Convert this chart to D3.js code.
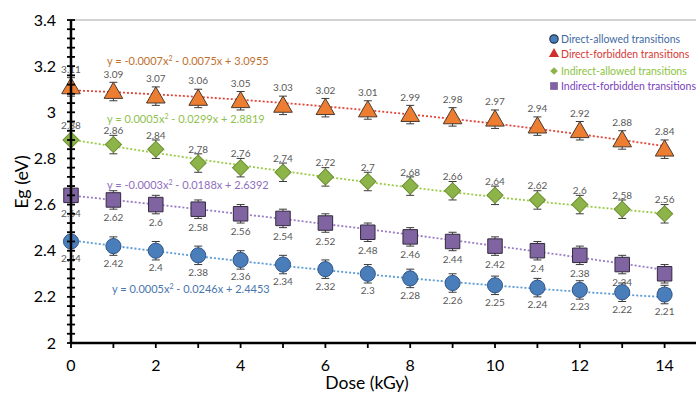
<!DOCTYPE html>
<html><head><meta charset="utf-8">
<script src="https://cdn.jsdelivr.net/npm/d3@7"></script>
<style>body{margin:0;background:#fff}svg{display:block}text{font-family:Lato,"Open Sans",sans-serif}</style>
</head><body><svg id="c" width="696" height="394"></svg>
<script>
const doses = [0,1,2,3,4,5,6,7,8,9,10,11,12,13,14];
const directAllowed   = [2.44,2.42,2.4,2.38,2.36,2.34,2.32,2.3,2.28,2.26,2.25,2.24,2.23,2.22,2.21];
const directForbidden = [3.11,3.09,3.07,3.06,3.05,3.03,3.02,3.01,2.99,2.98,2.97,2.94,2.92,2.88,2.84];
const indirectAllowed = [2.88,2.86,2.84,2.78,2.76,2.74,2.72,2.7,2.68,2.66,2.64,2.62,2.6,2.58,2.56];
const indirectForbidden = [2.64,2.62,2.6,2.58,2.56,2.54,2.52,2.48,2.46,2.44,2.42,2.4,2.38,2.34,2.3];
const errorValue = 0.04;
const seriesNames = ["Direct-allowed transitions","Direct-forbidden transitions","Indirect-allowed transitions","Indirect-forbidden transitions"];
const fitCoefs = [[0.0005,-0.0246,2.4453],[-0.0007,-0.0075,3.0955],[0.0005,-0.0299,2.8819],[-0.0003,-0.0188,2.6392]];
const fitLabels = ["y = 0.0005x\u00b2 - 0.0246x + 2.4453","y = -0.0007x\u00b2 - 0.0075x + 3.0955","y = 0.0005x\u00b2 - 0.0299x + 2.8819","y = -0.0003x\u00b2 - 0.0188x + 2.6392"];
const xTicks = [0,2,4,6,8,10,12,14];
const yTicks = [2,2.2,2.4,2.6,2.8,3,3.2,3.4];

const svg = d3.select("#c");
const x = d3.scaleLinear().domain([0,15]).range([71,707]);
const y = d3.scaleLinear().domain([2,3.4]).range([343,20]);

const styles = [
  {fill:"#4a7ebb",stroke:"#2f5587",line:"#5b9bd5",eq:"#4a76ad",leg:"#3f6aa3",shape:d3.symbolCircle,size:180,rot:0,labelDy:20.5,eqY:289},
  {fill:"#ed7d31",stroke:"#4a3a30",line:"#e0463a",eq:"#c0702f",leg:"#d63a35",shape:d3.symbolTriangle,size:150,rot:0,labelDy:-14,eqY:61},
  {fill:"#8db448",stroke:"#6d8f34",line:"#9bcb45",eq:"#8fbf4e",leg:"#8cc43f",shape:d3.symbolSquare,size:130,rot:45,labelDy:-10.5,eqY:119},
  {fill:"#8064a2",stroke:"#33293f",line:"#9b7cc4",eq:"#8f6fbd",leg:"#7b3fc0",shape:d3.symbolSquare,size:210,rot:0,labelDy:21.5,eqY:185}
];
const data = [directAllowed,directForbidden,indirectAllowed,indirectForbidden];

// top border
svg.append("line").attr("x1",x(0)).attr("x2",696).attr("y1",y(3.4)).attr("y2",y(3.4)).attr("stroke","#a6a6a6").attr("stroke-width",1);

// trendlines
const fine = d3.range(0,14.01,0.1);
data.forEach((d,i)=>{
  const c=fitCoefs[i];
  svg.append("path").datum(fine)
    .attr("d",d3.line().x(v=>x(v)).y(v=>y(c[0]*v*v+c[1]*v+c[2])))
    .attr("fill","none").attr("stroke",styles[i].line).attr("stroke-width",1.8).attr("stroke-dasharray","2,2");
});

// labels (under markers)
data.forEach((d,i)=>{
  svg.append("g").selectAll("text").data(d).join("text")
    .attr("x",(v,j)=>x(doses[j])).attr("y",v=>y(v)+styles[i].labelDy)
    .attr("text-anchor","middle").attr("font-size",10).attr("fill","#595959")
    .text(v=>String(v));
});

// error bars
data.forEach((d,i)=>{
  const g=svg.append("g").attr("stroke","#3a3a3a").attr("stroke-width",1);
  d.forEach((v,j)=>{
    const cx=x(doses[j]);
    g.append("line").attr("x1",cx).attr("x2",cx).attr("y1",y(v+errorValue)).attr("y2",y(v-errorValue));
    [v+errorValue,v-errorValue].forEach(e=>g.append("line").attr("x1",cx-4).attr("x2",cx+4).attr("y1",y(e)).attr("y2",y(e)));
  });
});

// markers
data.forEach((d,i)=>{
  const s=styles[i];
  svg.append("g").selectAll("path").data(d).join("path")
    .attr("transform",(v,j)=>`translate(${x(doses[j])},${y(v)+(s.shape===d3.symbolTriangle?1.5:0)}) rotate(${s.rot})`)
    .attr("d",d3.symbol().type(s.shape).size(s.size))
    .attr("fill",s.fill).attr("stroke",s.stroke).attr("stroke-width",1);
});

// equations
const eqX=[112,107,107,107];
fitLabels.forEach((t,i)=>{
  const parts=t.split("\u00b2");
  const tx=svg.append("text").attr("x",eqX[i]).attr("y",styles[i].eqY+4).attr("font-size",11).attr("fill",styles[i].eq);
  tx.append("tspan").text(parts[0].replace("x",""));
  tx.append("tspan").text("x");
  tx.append("tspan").attr("dy",-4).attr("font-size",7).text("2");
  tx.append("tspan").attr("dy",4).text(parts[1]);
});

// axes
const yAxis=svg.append("g").attr("transform",`translate(${x(0)},0)`);
yAxis.append("line").attr("y1",y(3.4)).attr("y2",y(2)).attr("stroke","#000").attr("stroke-width",2.5);
yAxis.selectAll(".mt").data(d3.range(0,36)).join("line")
  .attr("x1",-4).attr("x2",4).attr("y1",k=>y(2+k*0.04)).attr("y2",k=>y(2+k*0.04)).attr("stroke","#000").attr("stroke-width",1.8);
yAxis.selectAll("text").data(yTicks).join("text")
  .attr("x",-15).attr("y",v=>y(v)+5.5).attr("text-anchor","end").attr("font-size",16).attr("fill","#000")
  .text(v=>d3.format("~g")(v));

const xAxis=svg.append("g").attr("transform",`translate(0,${y(2)})`);
xAxis.append("line").attr("x1",x(0)-1).attr("x2",696).attr("stroke","#000").attr("stroke-width",2.5);
xAxis.selectAll(".t").data(d3.range(0,16)).join("line")
  .attr("x1",v=>x(v)).attr("x2",v=>x(v)).attr("y1",0).attr("y2",5).attr("stroke","#000").attr("stroke-width",1.8);
xAxis.selectAll("text").data(xTicks).join("text")
  .attr("x",v=>x(v)).attr("y",28).attr("text-anchor","middle").attr("font-size",16).attr("fill","#000")
  .text(v=>v);

svg.append("text").attr("x",367).attr("y",389).attr("text-anchor","middle").attr("font-size",17.5).text("Dose (kGy)");
svg.append("text").attr("transform","translate(28,182) rotate(-90)").attr("text-anchor","middle").attr("font-size",18).text("Eg (eV)");

// legend
const legY=[39,54,71,86];
seriesNames.forEach((n,i)=>{
  const s=styles[i];
  const g=svg.append("g").attr("transform",`translate(554,${legY[i]})`);
  const sz=[55,45,30,60][i];
  g.append("path").attr("d",d3.symbol().type(s.shape).size(sz)).attr("transform",`rotate(${s.rot})`).attr("fill",i==1?"#d0302c":s.fill)
    .attr("stroke",i==0?"#1f3550":"none").attr("stroke-width",1.2);
  g.append("text").attr("x",7).attr("y",4).attr("font-size",10.5).attr("fill",s.leg).text(n);
});
</script></body></html>
